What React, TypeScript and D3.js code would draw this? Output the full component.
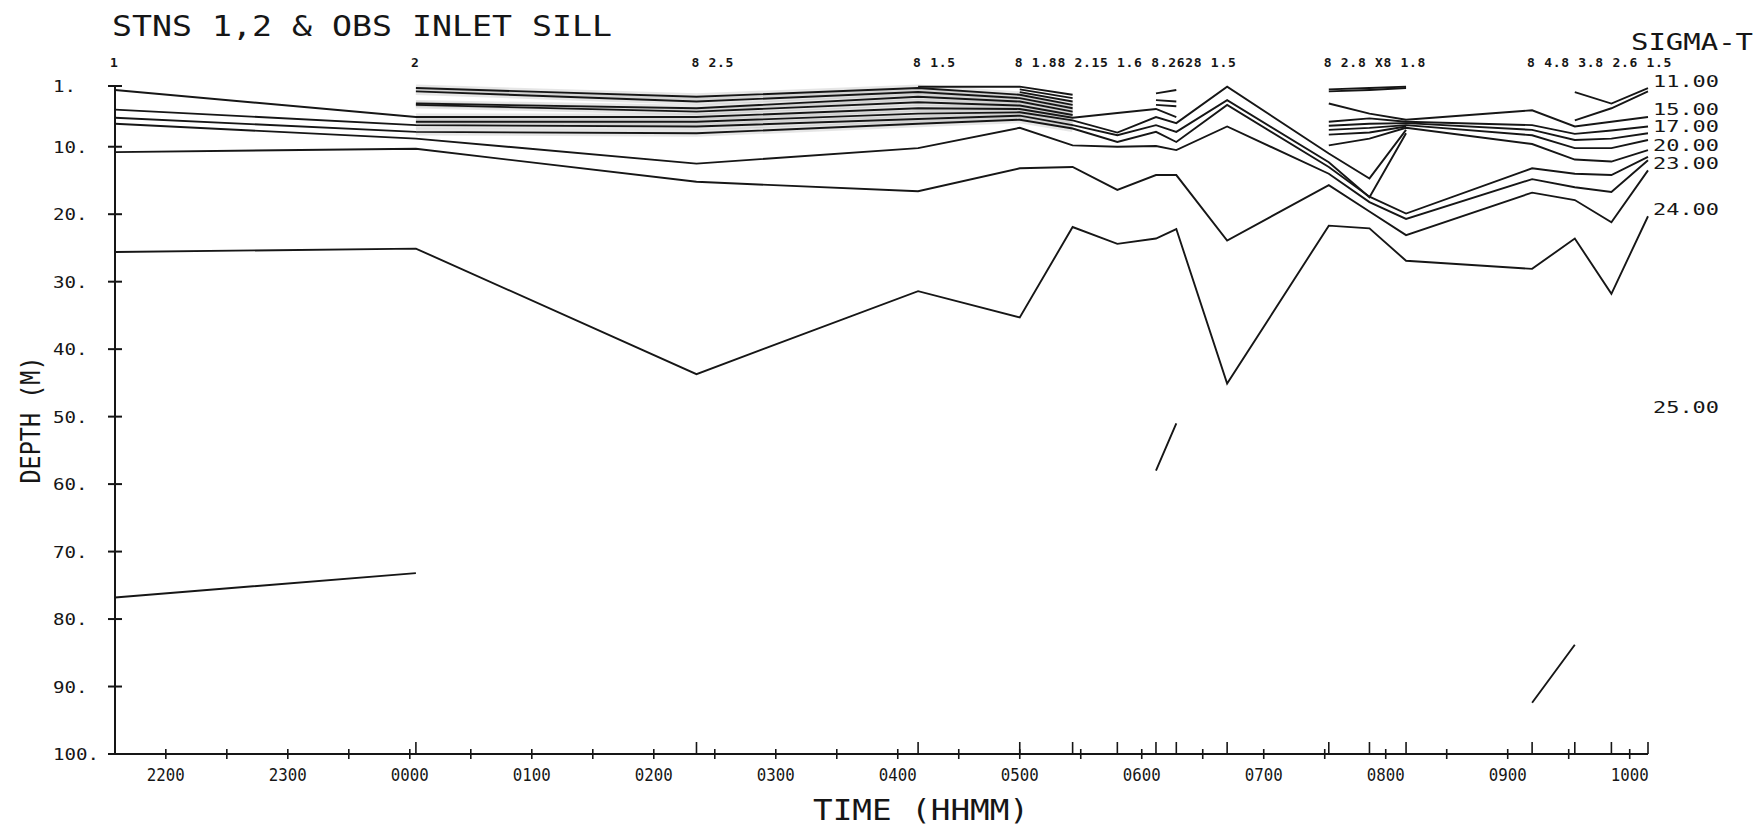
import React, { useEffect, useRef } from 'react';
import * as d3 from 'd3';

// station (cast) times, HHMM; the first is on the previous evening
const stationTimes = ['2135', '0003', '0221', '0410', '0500', '0526', '0548', '0607', '0617', '0642', '0732', '0752', '0810', '0912', '0933', '0951', '1009'];
// notes printed by the plotter over the stations (crowded ones run together)
const noteStations = [0, 1, 2, 3, 4, 10, 13];
const noteTexts = ['1', '2', '8 2.5', '8 1.5', '8 1.88 2.15 1.6 8.2628 1.5', '8 2.8 X8 1.8', '8 4.8 3.8 2.6 1.5'];

// depth (m) of each sigma-t isoline at each station, null where it is not drawn
const sigma11 = [null, null, null, 1.1, 1.1, 2.3, null, 2.1, 1.6, null, 1.5, 1.3, 1.1, null, 1.9, 3.6, 1.3];
const sigma12 = [null, null, null, null, 1.5, 2.8, null, 3.1, 3.3, null, 1.8, 1.6, 1.3, null, 6.1, 4.3, 1.8];
const sigma13 = [null, null, null, null, 1.9, 3.3, null, 3.8, 4.0, null, 3.6, 5.1, 6.0, 4.6, 7.0, 6.3, 5.6];
const sigma14 = [null, 1.3, 2.6, 1.3, 2.3, 3.8, null, null, null, null, 6.3, 5.8, 6.3, 6.8, 8.1, 7.6, 7.0];
const sigma15 = [null, 1.8, 3.3, 1.9, 2.8, 4.3, null, null, null, null, 6.9, 6.6, 6.5, 7.5, 9.0, 8.8, 8.0];
const sigma16 = [null, 3.6, 4.3, 2.6, 3.3, 4.8, null, null, null, null, 7.5, 7.2, 6.8, 8.3, 10.2, 10.2, 9.0];
const sigma17 = [null, 3.8, 4.8, 3.4, 3.9, 5.3, null, null, null, null, 8.2, 7.9, 7.0, null, null, null, null];
const sigma18 = [1.6, 5.6, 5.6, 4.3, 4.4, 5.7, 5.0, 4.4, 5.6, null, 9.8, 8.8, 7.2, 9.6, 11.9, 12.2, 10.5];
const sigma19 = [null, 6.3, 6.3, 5.1, 4.9, 6.1, 7.9, 5.6, 6.5, 1.1, 11.0, 14.7, 7.5, null, null, null, null];
const sigma20 = [4.5, 6.8, 7.0, 5.9, 5.4, 6.8, 8.3, 6.8, 7.8, 3.1, 12.3, 17.5, 8.0, null, null, null, null];
const sigma21 = [5.7, 7.8, 8.0, 6.6, 6.0, 7.3, 9.3, 7.8, 9.3, 3.8, 13.0, 17.4, 19.9, 13.2, 14.0, 14.2, 11.5];
const sigma22 = [6.6, 8.8, 12.5, 10.2, 7.2, 9.8, 10.0, 9.9, 10.5, 7.0, 14.0, 18.2, 20.7, 14.8, 16.0, 16.7, 12.0];
const sigma23 = [10.8, 10.3, 15.2, 16.6, 13.2, 13.0, 16.4, 14.2, 14.2, 23.9, 15.7, 19.6, 23.1, 16.8, 17.9, 21.2, 13.5];
const sigma24 = [25.6, 25.1, 43.7, 31.4, 35.3, 21.9, 24.4, 23.6, 22.2, 45.1, 21.7, 22.1, 26.9, 28.1, 23.6, 31.8, 20.3];
const sigma25 = [76.8, 73.2, null, null, null, null, null, 58.0, 51.0, null, null, null, null, 92.4, 83.8, null, null];

const contours = [sigma11, sigma12, sigma13, sigma14, sigma15, sigma16, sigma17, sigma18, sigma19, sigma20, sigma21, sigma22, sigma23, sigma24, sigma25];
// the upper band that came out smudged grey on the scan
const smudged = [sigma14, sigma15, sigma16, sigma17, sigma18, sigma19, sigma20, sigma21];

// labels written at the right end, and the depth they sit at
const levelLabels = ['11.00', '15.00', '17.00', '20.00', '23.00', '24.00', '25.00'];
const levelLabelDepths = [0.2, 4.35, 7.0, 9.7, 12.35, 19.3, 48.6];

const depthTicks = [1, 10, 20, 30, 40, 50, 60, 70, 80, 90, 100];
const hourTicks = [-2, -1, 0, 1, 2, 3, 4, 5, 6, 7, 8, 9, 10];

const parseHHMM = (s: string) => {
  const h = +s.slice(0, 2) + +s.slice(2) / 60;
  return h >= 12 ? h - 24 : h;
};
const hourLabel = (h: number) => String((h + 24) % 24).padStart(2, '0') + '00';

const App: React.FC = () => {
  const svgRef = useRef<SVGSVGElement | null>(null);

  useEffect(() => {
    if (!svgRef.current) return;
    const svg = d3.select(svgRef.current);
    const ink = '#161616';
    const mono = '"DejaVu Sans Mono", monospace';

    const times = stationTimes.map(parseHHMM);
    const x = d3.scaleLinear().domain([times[0], times[times.length - 1]]).range([115, 1648]);
    const y = d3.scaleLinear().domain([1, 100]).range([86, 754]);
    const [x0, x1] = x.range();
    const yBottom = y(100);

    // Title
    svg.append('text')
      .attr('x', 112).attr('y', 36)
      .attr('textLength', 500).attr('lengthAdjust', 'spacingAndGlyphs')
      .style('font', `28px ${mono}`).style('fill', ink)
      .text('STNS 1,2 & OBS INLET SILL');

    // Depth axis
    svg.append('line')
      .attr('x1', x0).attr('x2', x0).attr('y1', y(1)).attr('y2', yBottom)
      .attr('stroke', ink).attr('stroke-width', 2);
    depthTicks.forEach((d) => {
      svg.append('line')
        .attr('x1', x0 - 7).attr('x2', x0 + 7).attr('y1', y(d)).attr('y2', y(d))
        .attr('stroke', ink).attr('stroke-width', 2);
      const lbl = `${d}.`;
      svg.append('text')
        .attr('x', 53).attr('y', y(d) + 6)
        .attr('textLength', lbl.length * 11.5).attr('lengthAdjust', 'spacingAndGlyphs')
        .style('font', `16px ${mono}`).style('fill', ink)
        .text(lbl);
    });
    svg.append('text')
      .attr('transform', `translate(40, 420) rotate(-90)`)
      .attr('text-anchor', 'middle')
      .attr('textLength', 127).attr('lengthAdjust', 'spacingAndGlyphs')
      .style('font', `27px ${mono}`).style('fill', ink)
      .text('DEPTH (M)');

    // Time axis
    svg.append('line')
      .attr('x1', x0).attr('x2', x1).attr('y1', yBottom).attr('y2', yBottom)
      .attr('stroke', ink).attr('stroke-width', 2);
    d3.range(-2, 10.01, 0.5).forEach((h) => {
      svg.append('line')
        .attr('x1', x(h)).attr('x2', x(h)).attr('y1', yBottom - 5).attr('y2', yBottom + 5)
        .attr('stroke', ink).attr('stroke-width', 1.6);
    });
    times.forEach((t) => {
      svg.append('line')
        .attr('x1', x(t)).attr('x2', x(t)).attr('y1', yBottom - 12).attr('y2', yBottom)
        .attr('stroke', ink).attr('stroke-width', 1.6);
    });
    hourTicks.forEach((h) => {
      svg.append('text')
        .attr('x', x(h)).attr('y', yBottom + 27)
        .attr('text-anchor', 'middle')
        .attr('textLength', 38).attr('lengthAdjust', 'spacingAndGlyphs')
        .style('font', `17px ${mono}`).style('fill', ink)
        .text(hourLabel(h));
    });
    svg.append('text')
      .attr('x', 813).attr('y', 820)
      .attr('textLength', 216).attr('lengthAdjust', 'spacingAndGlyphs')
      .style('font', `29px ${mono}`).style('fill', ink)
      .text('TIME (HHMM)');

    // Station notes along the top
    noteStations.forEach((s, i) => {
      svg.append('text')
        .attr('x', x(times[s]) - 5).attr('y', 67)
        .style('font', `bold 13px ${mono}`).style('letter-spacing', '0.7px').style('fill', ink)
        .text(noteTexts[i]);
    });

    // Sigma-t isolines
    const line = d3.line<number | null>()
      .defined((d) => d != null)
      .x((_, i) => x(times[i]))
      .y((d) => y(d as number));

    // grey smear of the dense band between 0000 and 0530
    const smear = d3.line<number | null>()
      .defined((d, i) => d != null && i >= 1 && i <= 5)
      .x((_, i) => x(times[i]))
      .y((d) => y(d as number));
    smudged.forEach((c) => {
      svg.append('path')
        .attr('d', smear(c) as string)
        .attr('fill', 'none')
        .attr('stroke', '#9a9a9a')
        .attr('stroke-opacity', 0.25)
        .attr('stroke-width', 7);
    });

    contours.forEach((c) => {
      svg.append('path')
        .attr('d', line(c) as string)
        .attr('fill', 'none')
        .attr('stroke', ink)
        .attr('stroke-width', 1.9)
        .attr('stroke-linejoin', 'miter');
    });

    // Level labels on the right
    svg.append('text')
      .attr('x', 1631).attr('y', 50)
      .attr('textLength', 122).attr('lengthAdjust', 'spacingAndGlyphs')
      .style('font', `23px ${mono}`).style('fill', ink)
      .text('SIGMA-T');
    levelLabels.forEach((l, i) => {
      svg.append('text')
        .attr('x', x1 + 5).attr('y', y(levelLabelDepths[i]) + 6)
        .attr('textLength', 66).attr('lengthAdjust', 'spacingAndGlyphs')
        .style('font', `16px ${mono}`).style('fill', ink)
        .text(l);
    });

    return () => { svg.selectAll('*').remove(); };
  }, []);

  return (
    <svg
      ref={svgRef}
      width={1754}
      height={827}
      style={{ position: 'absolute', left: 0, top: 0, background: '#fff', display: 'block' }}
    />
  );
};

export default App;
